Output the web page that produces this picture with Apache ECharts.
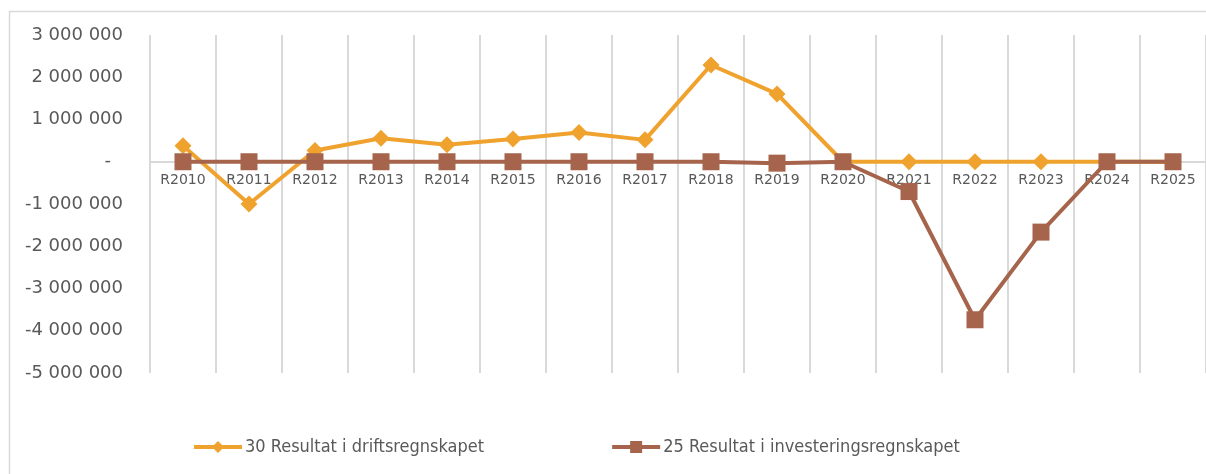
<!DOCTYPE html>
<html>
<head>
<meta charset="utf-8">
<script src="https://cdn.jsdelivr.net/npm/echarts@6/dist/echarts.min.js"></script>
<style>
  html, body { margin: 0; padding: 0; background: #fff; }
  #main { width: 1206px; height: 474px; }
</style>
</head>
<body>
<div id="main"></div>
<script>
// kategorier (regnskapsår)
var years = ['R2010', 'R2011', 'R2012', 'R2013', 'R2014', 'R2015', 'R2016', 'R2017',
             'R2018', 'R2019', 'R2020', 'R2021', 'R2022', 'R2023', 'R2024', 'R2025'];

var driftName = '30 Resultat i driftsregnskapet';
var drift = [380000, -1000000, 265000, 558000, 400000, 540000, 690000, 518000,
             2290000, 1605000, 0, 0, 0, 0, 0, 0];

var invName = '25 Resultat i investeringsregnskapet';
var investering = [0, 0, 0, 0, 0, 0, 0, 0,
                   0, -33000, 0, -705000, -3740000, -1665000, 0, 0];

// y-akse
var yMin = -5000000;
var yMax = 3000000;
var yStep = 1000000;

var orange = '#F0A22E';
var brown = '#A5644B';
var grey = '#595959';
var gridGrey = '#d9d9d9';

var gridTop = 35, gridBottom = 101, chartH = 474;

function fmtNum(v) {
    if (v === 0) return '{z|-}';
    var s = Math.abs(v).toString().replace(/\B(?=(\d{3})+(?!\d))/g, ' ');
    return (v < 0 ? '-' : '') + s;
}

window.onload = function () {
    var myChart = echarts.init(document.getElementById('main'));
    // flytt x-aksen (linje + etiketter) opp til nullnivået
    var plotH = chartH - gridTop - gridBottom;
    var zeroOffset = -plotH * (0 - yMin) / (yMax - yMin);

    myChart.setOption({
        animation: false,
        backgroundColor: '#fff',
        graphic: [{
            type: 'rect',
            shape: { x: 9.5, y: 11.5, width: 1300, height: 500 },
            style: { fill: 'none', stroke: gridGrey, lineWidth: 1.5 },
            silent: true,
            z: -10
        }],
        grid: {
            left: 150,
            right: -4,
            top: gridTop,
            bottom: gridBottom
        },
        legend: {
            left: 187,
            top: 433,
            itemWidth: 48,
            itemHeight: 15,
            itemGap: 126,
            lineStyle: { width: 4 },
            textStyle: {
                fontFamily: '"DejaVu Sans Condensed", "DejaVu Sans", sans-serif',
                fontSize: 18,
                color: grey,
                padding: [0, 0, 0, -2]
            },
            data: [driftName, invName]
        },
        xAxis: {
            type: 'category',
            boundaryGap: true,
            data: years,
            offset: zeroOffset,
            axisLine: { onZero: false, lineStyle: { color: gridGrey, width: 2 } },
            axisTick: { show: false },
            axisLabel: {
                interval: 0,
                margin: 12,
                color: grey,
                fontFamily: '"DejaVu Sans", sans-serif',
                fontSize: 14
            },
            splitLine: { show: true, interval: 0, lineStyle: { color: gridGrey, width: 2 } }
        },
        yAxis: {
            type: 'value',
            min: yMin,
            max: yMax,
            interval: yStep,
            axisLine: { show: false },
            axisTick: { show: false },
            splitLine: { show: false },
            axisLabel: {
                margin: 27,
                color: grey,
                fontFamily: '"DejaVu Sans", sans-serif',
                fontSize: 18,
                formatter: fmtNum,
                rich: {
                    z: {
                        color: grey,
                        fontFamily: '"DejaVu Sans", sans-serif',
                        fontSize: 18,
                        padding: [0, 12, 0, 0]
                    }
                }
            }
        },
        series: [{
            name: driftName,
            type: 'line',
            data: drift,
            color: orange,
            symbol: 'diamond',
            symbolSize: 17,
            lineStyle: { width: 4, color: orange },
            itemStyle: { color: orange }
        }, {
            name: invName,
            type: 'line',
            data: investering,
            color: brown,
            symbol: 'rect',
            symbolSize: 17,
            lineStyle: { width: 4, color: brown },
            itemStyle: { color: brown }
        }]
    });
};
</script>
</body>
</html>
